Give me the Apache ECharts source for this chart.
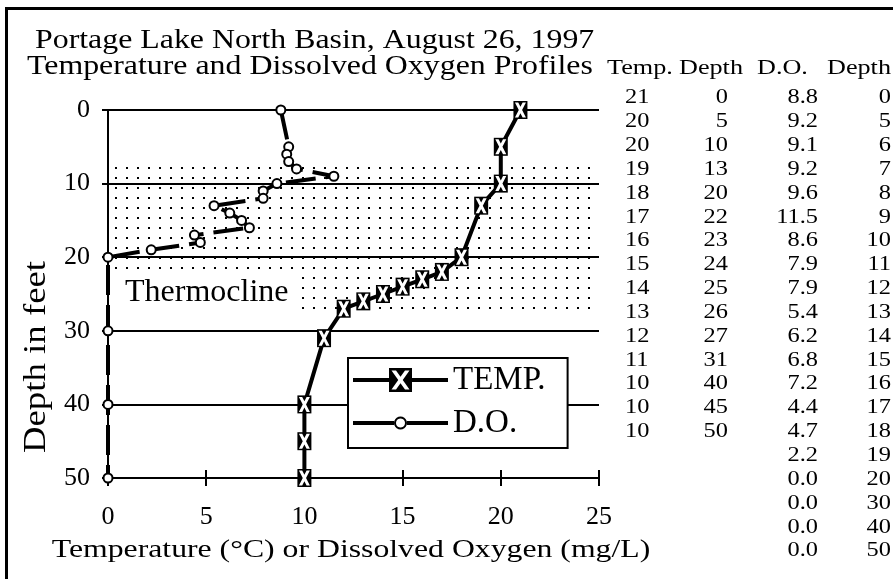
<!DOCTYPE html>
<html>
<head>
<meta charset="utf-8">
<script src="https://cdn.jsdelivr.net/npm/echarts@6/dist/echarts.min.js"></script>
<style>
  html, body { margin: 0; padding: 0; background: #fff; }
  #chart { width: 893px; height: 579px; }
</style>
</head>
<body>
<div id="chart"></div>
<script>
// temperature profile (deg C vs depth in feet)
var tempDepth = [0, 5, 10, 13, 20, 22, 23, 24, 25, 26, 27, 31, 40, 45, 50];
var tempValue = [21, 20, 20, 19, 18, 17, 16, 15, 14, 13, 12, 11, 10, 10, 10];
// dissolved oxygen profile (mg/L vs depth in feet)
var doDepth = [0, 5, 6, 7, 8, 9, 10, 11, 12, 13, 14, 15, 16, 17, 18, 19, 20, 30, 40, 50];
var doValue = [8.8, 9.2, 9.1, 9.2, 9.6, 11.5, 8.6, 7.9, 7.9, 5.4, 6.2, 6.8, 7.2, 4.4, 4.7, 2.2, 0.0, 0.0, 0.0, 0.0];
// axes
var xTicks = [0, 5, 10, 15, 20, 25];
var yTicks = [0, 10, 20, 30, 40, 50];
// thermocline band (depth, feet)
var thermocline = [7.5, 27.3];
var tableHeader = ['Temp.', 'Depth', 'D.O.', 'Depth'];

var serif = '"Liberation Serif", "Times New Roman", serif';

// dotted fill for the thermocline
function dotPattern() {
    var c = document.createElement('canvas');
    c.width = 11;
    c.height = 10;
    var ctx = c.getContext('2d');
    ctx.fillStyle = '#000';
    ctx.fillRect(5, 7, 2, 2);
    return c;
}

// X shape as a 12 point polygon, reversed when it has to cut a hole
function xShape(x0, y0, w, h, t, reverse) {
    var cx = x0 + w / 2, cy = y0 + h / 2, a = w / 2, b = h / 2;
    var s = (a - t) / (2 * a - t);
    var n = b * (1 - 2 * s);
    var m = t / 2;
    var pts = [[cx - a, cy - b], [cx - a + t, cy - b], [cx, cy - n], [cx + a - t, cy - b], [cx + a, cy - b], [cx + m, cy],
               [cx + a, cy + b], [cx + a - t, cy + b], [cx, cy + n], [cx - a + t, cy + b], [cx - a, cy + b], [cx - m, cy]];
    if (reverse) pts.reverse();
    return 'M' + pts.map(function (p) { return p[0].toFixed(2) + ' ' + p[1].toFixed(2); }).join(' L') + ' Z ';
}
function box(x0, y0, x1, y1) {
    return 'M' + x0 + ' ' + y0 + ' L' + x1 + ' ' + y0 + ' L' + x1 + ' ' + y1 + ' L' + x0 + ' ' + y1 + ' Z ';
}
function ring(cx, cy, r0, r1) {
    var outer = [], inner = [];
    for (var i = 0; i < 20; i++) {
        var a = i / 20 * Math.PI * 2;
        outer.push((cx + r0 * Math.cos(a)).toFixed(2) + ' ' + (cy + r0 * Math.sin(a)).toFixed(2));
        inner.push((cx + r1 * Math.cos(-a)).toFixed(2) + ' ' + (cy + r1 * Math.sin(-a)).toFixed(2));
    }
    return 'M' + outer.join(' L') + ' Z M' + inner.join(' L') + ' Z ';
}

var xMarker = 'path://' + xShape(0, 0, 10, 10, 3, false);
var tempIcon = 'path://' + box(0, 10, 36, 14) + box(59, 10, 95, 14) + box(36, 0, 59, 24) + xShape(38.5, 2.5, 18, 19, 4.5, true);
var doIcon = 'path://' + box(0, 10, 41, 14) + box(54, 10, 95, 14) + ring(47.5, 12, 6.5, 4.5);

var tempData = tempValue.map(function (v, i) { return [v, tempDepth[i]]; });
var doData = doValue.map(function (v, i) { return [v, doDepth[i]]; });

// right hand table, one text block per column
function column(lines, x, align) {
    return {
        type: 'text', x: x, y: 98 - 23.85 / 2, scaleX: 1.22, silent: true,
        style: {
            text: lines.join('\n'), fontFamily: serif, fontSize: 20, lineHeight: 23.85,
            fill: '#000', align: align, verticalAlign: 'top'
        }
    };
}
var headerX = [607, 679, 757, 827];
var graphics = [
    { type: 'rect', silent: true, shape: { x: 6.5, y: 8.5, width: 900, height: 600 },
      style: { fill: 'none', stroke: '#000', lineWidth: 3 } },
    { type: 'text', x: 35, y: 41, scaleX: 1.18, silent: true,
      style: { text: 'Portage Lake North Basin, August 26, 1997', fontFamily: serif, fontSize: 27, fill: '#000', align: 'left', verticalAlign: 'middle' } },
    { type: 'text', x: 27, y: 67, scaleX: 1.18, silent: true,
      style: { text: 'Temperature and Dissolved Oxygen Profiles', fontFamily: serif, fontSize: 27, fill: '#000', align: 'left', verticalAlign: 'middle' } },
    { type: 'text', x: 37, y: 357, rotation: Math.PI / 2, scaleX: 1.15, silent: true,
      style: { text: 'Depth in feet', fontFamily: serif, fontSize: 32, fill: '#000', align: 'center', verticalAlign: 'middle' } },
    { type: 'text', x: 351, y: 550, scaleX: 1.27, silent: true,
      style: { text: 'Temperature (°C) or Dissolved Oxygen (mg/L)', fontFamily: serif, fontSize: 25, fill: '#000', align: 'center', verticalAlign: 'middle' } },
    column(tempValue.map(String), 625, 'left'),
    column(tempDepth.map(String), 728, 'right'),
    column(doValue.map(function (v) { return v.toFixed(1); }), 818, 'right'),
    column(doDepth.map(String), 891, 'right')
];
tableHeader.forEach(function (h, i) {
    graphics.push({ type: 'text', x: headerX[i], y: 68, scaleX: 1.19, silent: true,
        style: { text: h, fontFamily: serif, fontSize: 22, fill: '#000', align: 'left', verticalAlign: 'middle' } });
});

var chart = echarts.init(document.getElementById('chart'));
var option = {
    animation: false,
    backgroundColor: '#fff',
    grid: { left: 108, right: 294, top: 110, bottom: 101 },
    legend: {
        left: 348, top: 358, orient: 'vertical',
        backgroundColor: '#fff', borderColor: '#000', borderWidth: 2,
        padding: [5, 22, 8, 5],
        itemWidth: 95, itemHeight: 24, itemGap: 9,
        selectedMode: false,
        textStyle: { fontFamily: serif, fontSize: 33, lineHeight: 34, color: '#000' },
        data: [
            { name: 'TEMP.', icon: tempIcon, itemStyle: { color: '#000', borderWidth: 0 } },
            { name: 'D.O.', icon: doIcon, itemStyle: { color: '#000', borderWidth: 0 } }
        ]
    },
    xAxis: [{
        type: 'value', position: 'bottom',
        min: xTicks[0], max: xTicks[xTicks.length - 1], interval: xTicks[1] - xTicks[0],
        axisLine: { onZero: false, lineStyle: { color: '#000', width: 2 } },
        axisTick: { length: 8, lineStyle: { color: '#000', width: 2 } },
        axisLabel: { color: '#000', fontFamily: serif, fontSize: 26, margin: 26 },
        splitLine: { show: false }
    }, {
        type: 'value', position: 'bottom',
        min: xTicks[0], max: xTicks[xTicks.length - 1], interval: xTicks[1] - xTicks[0],
        axisLine: { show: false, onZero: false },
        axisTick: { inside: true, length: 8, lineStyle: { color: '#000', width: 2 } },
        axisLabel: { show: false },
        splitLine: { show: false }
    }],
    yAxis: {
        type: 'value', inverse: true,
        min: yTicks[0], max: yTicks[yTicks.length - 1], interval: yTicks[1] - yTicks[0],
        axisLine: { show: true, onZero: false, lineStyle: { color: '#000', width: 2 } },
        axisTick: { show: true, length: 6, lineStyle: { color: '#000', width: 2 } },
        axisLabel: { color: '#000', fontFamily: serif, fontSize: 26, margin: 18 },
        splitLine: { show: true, lineStyle: { color: '#000', width: 2 } }
    },
    series: [
        {
            name: 'D.O.', type: 'line', data: doData, clip: false,
            symbol: 'emptyCircle', symbolSize: 9,
            itemStyle: { color: '#000', borderWidth: 1.5 },
            lineStyle: { color: '#000', width: 4, type: [30, 10] },
            markArea: {
                silent: true,
                itemStyle: { color: { image: dotPattern(), repeat: 'repeat' } },
                label: {
                    show: true, formatter: 'Thermocline', position: [5, 127],
                    align: 'left', verticalAlign: 'middle',
                    fontFamily: serif, fontSize: 32, color: '#000',
                    backgroundColor: '#fff', padding: [4, 6, 3, 12]
                },
                data: [[{ yAxis: thermocline[0] }, { yAxis: thermocline[1] }]]
            }
        },
        {
            name: 'TEMP.', type: 'line', data: tempData, clip: false,
            symbol: 'rect', symbolSize: [14, 18],
            itemStyle: { color: '#000' },
            lineStyle: { color: '#000', width: 4 }
        },
        {
            name: 'TEMP.', type: 'line', data: tempData, clip: false, silent: true,
            symbol: xMarker, symbolSize: [11, 15],
            itemStyle: { color: '#fff' },
            lineStyle: { width: 0, opacity: 0 }
        }
    ],
    graphic: graphics
};
chart.setOption(option);
</script>
</body>
</html>
